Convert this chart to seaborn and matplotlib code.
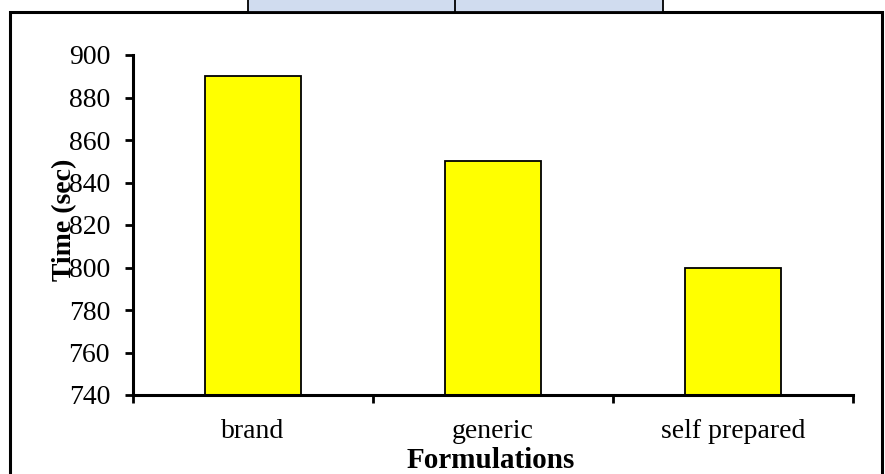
import matplotlib
matplotlib.use("Agg")
import matplotlib.pyplot as plt
from matplotlib.patches import Rectangle
from matplotlib.lines import Line2D
from matplotlib.ticker import FixedLocator, NullFormatter
import seaborn as sns
import pandas as pd

# Data
formulations = ["brand", "generic", "self prepared"]
times_sec = [890, 850, 800]
y_ticks = [740, 760, 780, 800, 820, 840, 860, 880, 900]

sns.set_theme(style="white")
plt.rcParams["font.family"] = ["Liberation Serif", "DejaVu Serif"]
plt.rcParams["text.color"] = "black"
plt.rcParams["axes.labelcolor"] = "black"
plt.rcParams["xtick.color"] = "black"
plt.rcParams["ytick.color"] = "black"

df = pd.DataFrame({"Formulations": formulations, "Time (sec)": times_sec})

W, H = 885, 474
fig = plt.figure(figsize=(W / 100, H / 100), dpi=100)
ax = fig.add_axes([133 / W, 1 - 395 / H, 720 / W, 340 / H])

sns.barplot(data=df, x="Formulations", y="Time (sec)", color="#FFFF00",
            saturation=1, edgecolor="black", linewidth=1.3, width=0.4, ax=ax)

ax.set_ylim(740, 900)
ax.set_xlim(-0.5, len(formulations) - 0.5)
ax.set_yticks(y_ticks)
ax.set_yticklabels([str(v) for v in y_ticks], fontsize=20)

# category boundaries carry the tick marks, labels sit between them
ax.xaxis.set_major_locator(FixedLocator([i - 0.5 for i in range(len(formulations) + 1)]))
ax.xaxis.set_major_formatter(NullFormatter())
ax.xaxis.set_minor_locator(FixedLocator(list(range(len(formulations)))))
ax.set_xticklabels(formulations, minor=True, fontsize=20)
ax.tick_params(axis="x", which="major", direction="out", length=6, width=2, bottom=True, color="black")
ax.tick_params(axis="x", which="minor", length=0, pad=17, bottom=True)
ax.tick_params(axis="y", direction="out", length=5.5, width=2, left=True, color="black", pad=11)

for side in ["top", "right"]:
    ax.spines[side].set_visible(False)
for side in ["left", "bottom"]:
    ax.spines[side].set_linewidth(2.2)
    ax.spines[side].set_color("black")

ax.set_xlabel("Formulations", fontsize=21, fontweight="bold", labelpad=0)
ax.xaxis.set_label_coords(0.497, -0.152)
ax.set_ylabel("Time (sec)", fontsize=20, fontweight="bold")
ax.yaxis.set_label_coords(-0.078, 0.515)

# outer chart frame
fig.add_artist(Rectangle((10 / W, -0.05), (882 - 10) / W, (H - 12) / H + 0.05,
                         transform=fig.transFigure, fill=False,
                         edgecolor="black", linewidth=2.2))
# header cells peeking above the frame
fig.add_artist(Rectangle((248 / W, 1 - 12 / H), (663 - 248) / W, 12 / H + 0.01,
                         transform=fig.transFigure, facecolor="#D0DCEF",
                         edgecolor="black", linewidth=1.3))
fig.add_artist(Line2D([455 / W, 455 / W], [1 - 12 / H, 1.0],
                      transform=fig.transFigure, color="black", linewidth=1.3))

fig.savefig("out.png", dpi=100, facecolor="white")
